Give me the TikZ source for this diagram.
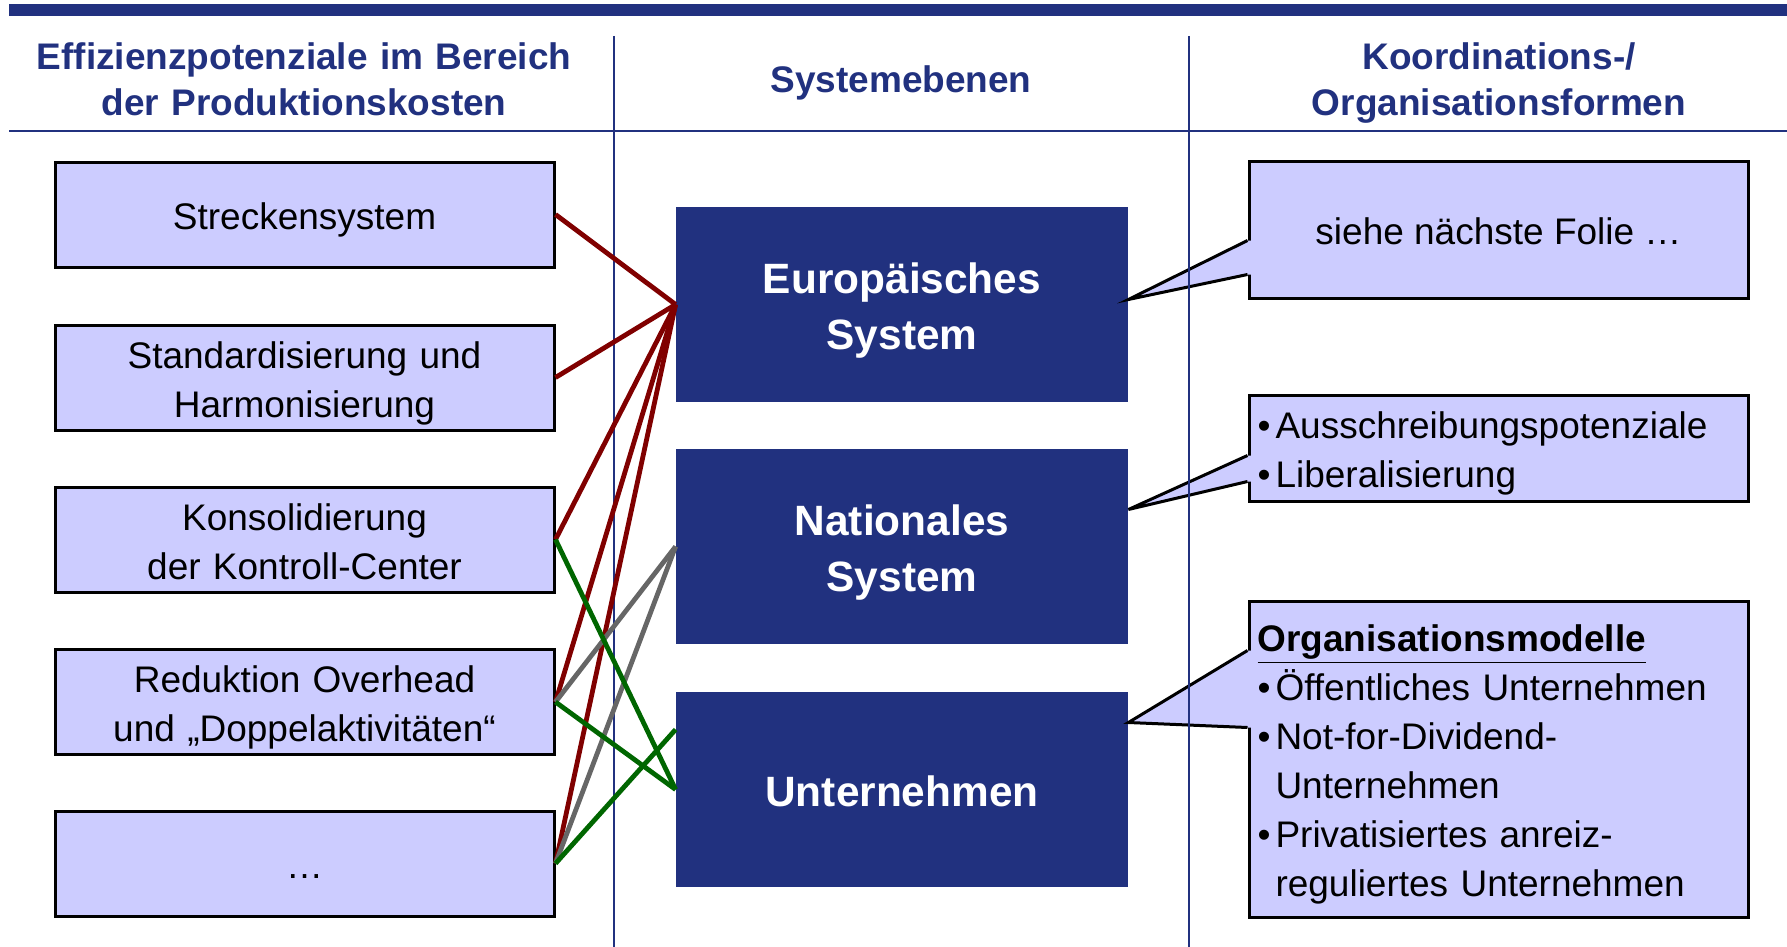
\documentclass[tikz,border=0pt]{standalone}
\usepackage{fontspec}
\setmainfont{Liberation Sans}
\usetikzlibrary{positioning,calc}
\definecolor{EBNavy}{HTML}{21317F}
\definecolor{EBLilac}{HTML}{CCCCFF}
\definecolor{EBRed}{HTML}{800000}
\definecolor{EBGreen}{HTML}{006600}
\definecolor{EBGray}{HTML}{666666}
\tikzset{
  lines/.style={execute at begin node={\rule{0pt}{1.03em}},
                execute at end node={\rule[-0.21em]{0pt}{0.21em}}},
  rule/.style={EBNavy,line width=1.1pt},
  head/.style={lines,text=EBNavy,font=\fontsize{18.5}{22.8}\selectfont\bfseries,
               text width=280pt,align=center},
  potential/.style={lines,draw=black,line width=1.5pt,fill=EBLilac,minimum width=249.5pt,
                    minimum height=52.5pt,inner sep=0pt,text width=249.5pt,align=center,
                    font=\fontsize{18.5}{24.5}\selectfont},
  level/.style={lines,fill=EBNavy,text=white,minimum width=226pt,minimum height=97.5pt,
                inner sep=0pt,text width=226pt,align=center,
                font=\fontsize{21.2}{28}\selectfont\bfseries},
  form/.style={lines,draw=black,line width=1.5pt,fill=EBLilac,minimum width=249.5pt,
               inner ysep=0pt,font=\fontsize{18.5}{24.5}\selectfont},
  formlist/.style={form,text width=241pt,inner xsep=4pt,align=left},
  link/.style={line width=2.4pt},
  linkred/.style={link,EBRed},
  linkgray/.style={link,EBGray},
  linkgreen/.style={link,EBGreen},
  pointer/.style={draw=black,line width=1.5pt,line join=miter},
}
\newcommand{\bul}{\makebox[9pt][l]{•}}
\newcommand{\nobul}{\hspace*{9pt}}

\begin{document}
\begin{tikzpicture}[x=0.5pt,y=-0.5pt]
    \useasboundingbox (0,0) rectangle (1787,947);
    \fill[EBNavy] (9,4.5) rectangle (1787,16);

    % column heads
    \node[head] (headleft) at (304,77.5) {Effizienzpotenziale im Bereich\\der Produktionskosten};
    \node[head] (headmid) at (901,77.5) {Systemebenen};
    \node[head] (headright) at (1499,77.5) {Koordinations-/\\Organisationsformen};

    % potentials
    \node[potential] (strecken) at (304.5,214.5) {Streckensystem};
    \node[potential] (standard) at (304.5,377.5) {Standardisierung und\\Harmonisierung};
    \node[potential] (konsol) at (304.5,539.5) {Konsolidierung\\der Kontroll-Center};
    \node[potential] (overhead) at (304.5,702) {Reduktion Overhead\\und „Doppelaktivitäten“};
    \node[potential] (weitere) at (304.5,863.5) {…};

    % system levels
    \node[level] (europ) at (902,304.5) {Europäisches\\System};
    \node[level] (national) at (902,546.5) {Nationales\\System};
    \node[level] (unternehmen) at (902,789.5) {Unternehmen};

    % forms
    \node[form,minimum height=68.5pt,align=center] (folie) at (1498.5,229.5) {siehe nächste Folie …};
    \node[formlist,minimum height=53pt] (liberal) at (1498.5,448)
      {\bul Ausschreibungspotenziale\\\bul Liberalisierung};
    \node[formlist,minimum height=158pt] (orgmodell) at (1498.5,759)
      {\textbf{\underline{Organisationsmodelle}}\\\bul Öffentliches Unternehmen\\
       \bul Not-for-Dividend-\\\nobul Unternehmen\\\bul Privatisiertes anreiz-\\
       \nobul reguliertes Unternehmen};

    % callout pointers
    \coordinate (tipA) at ($(europ.east)+(0,-5)$);
    \coordinate (baseA1) at ($(folie.north west)+(0,81)$);
    \coordinate (baseA2) at ($(folie.north west)+(0,115)$);
    \coordinate (tipB) at ($(national.east)+(0,-37)$);
    \coordinate (baseB1) at ($(liberal.north west)+(0,62)$);
    \coordinate (baseB2) at ($(liberal.north west)+(0,88)$);
    \coordinate (tipC) at ($(unternehmen.east)+(0,-67)$);
    \coordinate (baseC1) at ($(orgmodell.north west)+(0,51)$);
    \coordinate (baseC2) at ($(orgmodell.north west)+(0,128)$);
    \foreach \c in {A,B,C}{
      \fill[EBLilac] (tip\c) -- (base\c1) -- ($(base\c1)+(5,0)$) -- ($(base\c2)+(5,0)$)
        -- (base\c2) -- cycle;
      \draw[pointer] (base\c1) -- (tip\c) -- (base\c2);
    }

    % rules
    \draw[rule] (9,131) -- (1787,131);
    \draw[rule] (614,36) -- (614,947);
    \draw[rule] (1189,36) -- (1189,947);

    % links
    \foreach \p in {strecken,standard,konsol,overhead,weitere}
      \draw[linkred] (\p.east) -- (europ.west);
    \draw[linkgray] (overhead.east) -- (national.west);
    \draw[linkgray] (weitere.east) -- (national.west);
    \coordinate (untop) at ($(unternehmen.west)+(0,-60)$);
    \draw[linkgreen] (konsol.east) -- (unternehmen.west);
    \draw[linkgreen] (overhead.east) -- (unternehmen.west);
    \draw[linkgreen] (weitere.east) -- (untop);
\end{tikzpicture}
\end{document}
